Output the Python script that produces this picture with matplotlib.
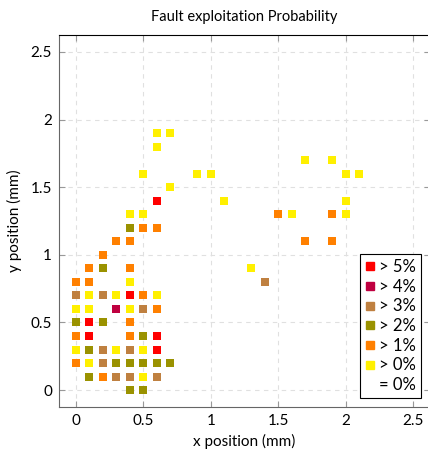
#!/usr/bin/env python3

import matplotlib

matplotlib.use("Agg")

import matplotlib.pyplot as plt
from matplotlib.lines import Line2D

# fault positions (mm), grouped by exploitation probability bucket
labels = ["> 5%", "> 4%", "> 3%", "> 2%", "> 1%", "> 0%"]
colors = ["#FF0000", "#BF0040", "#BF8040", "#9A9200", "#FF8000", "#FFF000"]

gt5_x = [0.4, 0.1, 0.1, 0.6, 0.6, 0.6]
gt5_y = [0.7, 0.5, 0.4, 0.4, 0.3, 1.4]

gt4_x = [0.3]
gt4_y = [0.6]

gt3_x = [0.0, 0.2, 0.5, 0.2, 0.4, 0.2, 0.3, 0.4, 0.6, 1.4]
gt3_y = [0.7, 0.7, 0.6, 0.3, 0.3, 0.2, 0.1, 0.1, 0.1, 0.8]

gt2_x = [0.2, 0.0, 0.2, 0.5, 0.1, 0.3, 0.4, 0.5, 0.6, 0.7, 0.1, 0.4, 0.5, 0.4]
gt2_y = [0.9, 0.5, 0.5, 0.4, 0.3, 0.2, 0.2, 0.2, 0.2, 0.2, 0.1, 0.0, 0.0, 1.2]

gt1_x = [0.3, 0.4, 0.2, 0.1, 0.4, 0.0, 0.1, 0.5, 0.6, 0.4,
         0.0, 0.4, 0.0, 0.2, 0.5, 0.6, 1.5, 1.9, 1.7, 1.9]
gt1_y = [1.1, 1.1, 1.0, 0.9, 0.9, 0.8, 0.8, 0.7, 0.6, 0.5,
         0.4, 0.4, 0.2, 0.1, 1.2, 1.2, 1.3, 1.3, 1.1, 1.1]

gt0_x = [0.4, 0.1, 0.3, 0.6, 0.0, 0.1, 0.4, 0.0, 0.3, 0.5,
         0.1, 0.5, 0.6, 0.7, 0.6, 0.5, 0.7, 0.4, 0.5, 0.9,
         1.0, 1.1, 1.3, 1.7, 1.9, 2.0, 2.1, 2.0, 1.6, 2.0]
gt0_y = [0.8, 0.7, 0.7, 0.7, 0.6, 0.6, 0.6, 0.3, 0.3, 0.3,
         0.2, 0.1, 1.9, 1.9, 1.8, 1.6, 1.5, 1.3, 1.3, 1.6,
         1.6, 1.4, 0.9, 1.7, 1.7, 1.6, 1.6, 1.4, 1.3, 1.3]

ticks = [0, 0.5, 1, 1.5, 2, 2.5]
tick_labels = ["0", "0.5", "1", "1.5", "2", "2.5"]


def main():
    plt.rcParams["font.family"] = ["Lato", "DejaVu Sans"]
    plt.rcParams["font.size"] = 11

    groups = [
        (gt5_x, gt5_y),
        (gt4_x, gt4_y),
        (gt3_x, gt3_y),
        (gt2_x, gt2_y),
        (gt1_x, gt1_y),
        (gt0_x, gt0_y),
    ]

    fig = plt.figure(figsize=(4.28, 4.49), dpi=100)
    ax = fig.add_axes([59 / 428, 42 / 449, 371 / 428, 372 / 449])

    for (xs, ys), color in zip(groups, colors):
        ax.scatter(xs, ys, s=30, marker="s", c=color, linewidths=0, zorder=3)

    ax.set_xlim(-0.125, 2.625)
    ax.set_ylim(-0.125, 2.625)
    ax.set_xticks(ticks, tick_labels)
    ax.set_yticks(ticks, tick_labels)

    ax.grid(True, color="#e0e0e0", linestyle=(0, (4, 4)), linewidth=0.8, zorder=0)
    ax.tick_params(direction="in", length=4, color="#999999", top=True, right=True,
                   labelsize=11, pad=5)

    for side in ("left", "bottom"):
        ax.spines[side].set_color("#666666")
    ax.spines["top"].set_color("black")

    ax.set_title("Fault exploitation Probability", fontsize=10.5, pad=10)
    ax.set_xlabel("x position (mm)", labelpad=4)
    ax.set_ylabel("y position (mm)", labelpad=6)

    handles = [
        Line2D([], [], marker="s", color=c, linestyle="none", markersize=5.5)
        for c in colors
    ]
    handles.append(Line2D([], [], linestyle="none"))
    leg = ax.legend(
        handles,
        labels + ["= 0%"],
        loc="lower right",
        bbox_to_anchor=(362 / 371, 9 / 372),
        frameon=True,
        fancybox=False,
        framealpha=1,
        edgecolor="black",
        handlelength=0.6,
        handletextpad=0.25,
        borderpad=0.3,
        labelspacing=0.22,
        borderaxespad=0,
        fontsize=12,
    )
    leg.get_frame().set_linewidth(0.8)

    fig.savefig("out.png", dpi=100)
    plt.close(fig)


if __name__ == "__main__":
    main()
